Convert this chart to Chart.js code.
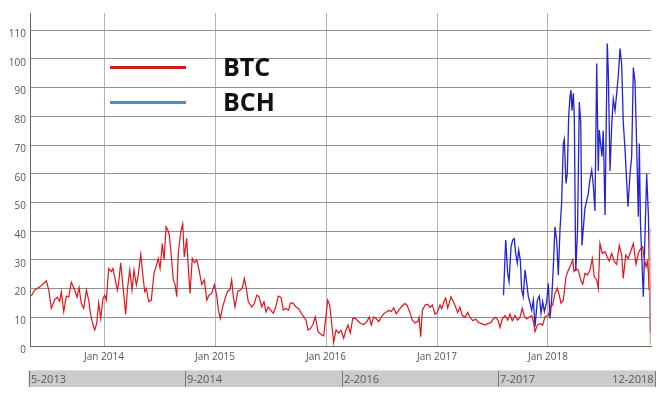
<!DOCTYPE html>
<html>
<head>
<meta charset="utf-8">
<script src="https://cdn.jsdelivr.net/npm/chart.js@4.4.1/dist/chart.umd.min.js"></script>
<style>
  html, body { margin: 0; padding: 0; background: #ffffff; }
  #wrap { width: 666px; height: 398px; position: relative; }
</style>
</head>
<body>
<div id="wrap"><canvas id="c"></canvas></div>
<script>
// ---- data (decimal years, values) ----
const seriesNames = ['BTC', 'BCH'];
const btcDates = [
  2013.345,2013.376,2013.421,2013.450,2013.480,2013.502,2013.525,2013.556,2013.579,2013.601,
  2013.615,2013.637,2013.660,2013.682,2013.705,2013.736,2013.757,2013.775,2013.795,2013.817,
  2013.841,2013.862,2013.877,2013.901,2013.916,2013.934,2013.952,2013.970,2013.991,2014.006,
  2014.021,2014.042,2014.066,2014.081,2014.096,2014.120,2014.132,2014.150,2014.171,2014.195,
  2014.210,2014.232,2014.252,2014.270,2014.291,2014.306,2014.331,2014.351,2014.367,2014.381,
  2014.403,2014.426,2014.450,2014.471,2014.489,2014.505,2014.525,2014.541,2014.559,2014.574,
  2014.588,2014.604,2014.624,2014.640,2014.655,2014.669,2014.691,2014.709,2014.723,2014.745,
  2014.759,2014.775,2014.795,2014.814,2014.835,2014.856,2014.880,2014.904,2014.925,2014.946,
  2014.970,2014.994,2015.015,2015.030,2015.048,2015.069,2015.090,2015.114,2015.135,2015.150,
  2015.165,2015.180,2015.205,2015.228,2015.246,2015.264,2015.279,2015.300,2015.331,2015.354,
  2015.376,2015.396,2015.421,2015.441,2015.459,2015.480,2015.502,2015.525,2015.547,2015.570,
  2015.595,2015.615,2015.633,2015.664,2015.678,2015.700,2015.730,2015.754,2015.777,2015.820,
  2015.838,2015.859,2015.880,2015.904,2015.928,2015.958,2015.979,2016.000,2016.015,2016.033,
  2016.054,2016.069,2016.090,2016.114,2016.135,2016.159,2016.180,2016.198,2016.219,2016.241,
  2016.264,2016.288,2016.309,2016.340,2016.369,2016.390,2016.408,2016.430,2016.450,2016.475,
  2016.498,2016.520,2016.541,2016.565,2016.588,2016.610,2016.633,2016.655,2016.678,2016.709,
  2016.730,2016.754,2016.778,2016.802,2016.826,2016.838,2016.853,2016.868,2016.892,2016.916,
  2016.937,2016.958,2016.982,2017.003,2017.027,2017.042,2017.063,2017.078,2017.096,2017.111,
  2017.126,2017.147,2017.168,2017.186,2017.207,2017.228,2017.252,2017.277,2017.297,2017.322,
  2017.349,2017.372,2017.403,2017.432,2017.457,2017.486,2017.507,2017.529,2017.552,2017.568,
  2017.588,2017.613,2017.637,2017.658,2017.678,2017.703,2017.727,2017.748,2017.768,2017.786,
  2017.808,2017.829,2017.853,2017.869,2017.883,2017.904,2017.928,2017.952,2017.973,2018.003,
  2018.024,2018.042,2018.063,2018.084,2018.102,2018.117,2018.138,2018.162,2018.183,2018.205,
  2018.223,2018.234,2018.252,2018.273,2018.295,2018.313,2018.333,2018.354,2018.378,2018.399,
  2018.417,2018.439,2018.453,2018.468,2018.489,2018.514,2018.534,2018.552,2018.574,2018.595,
  2018.619,2018.642,2018.664,2018.678,2018.700,2018.723,2018.745,2018.769,2018.793,2018.814,
  2018.835,2018.853,2018.865,2018.883,2018.895,2018.905,2018.910,2018.915,2018.921
];
const btcValues = [
  17.4,19.5,20.6,21.6,22.7,19.5,13.1,16.2,17.0,15.5,
  18.9,11.9,17.4,17.0,22.2,19.5,17.0,20.4,14.9,13.1,
  19.5,16.0,11.4,7.3,5.6,7.9,15.0,9.6,16.6,17.7,
  16.0,27.0,25.9,27.0,24.1,19.5,22.0,29.0,20.6,11.1,
  19.5,26.5,19.5,26.5,21.2,24.1,32.0,24.1,18.9,20.0,
  15.5,16.0,25.2,28.0,30.5,27.0,35.7,30.0,41.5,40.5,
  38.6,32.3,23.0,21.4,17.2,32.3,39.7,42.5,31.0,37.5,
  27.4,18.3,30.5,29.0,30.0,26.5,21.4,23.0,16.0,17.7,
  18.3,21.4,17.7,12.5,9.6,13.6,16.5,19.1,19.7,23.0,
  17.2,13.6,19.1,19.5,20.3,23.5,20.7,15.4,13.6,14.8,
  17.7,17.2,13.6,15.4,11.8,13.6,12.5,11.4,13.6,17.4,
  16.9,12.5,13.1,12.5,14.9,15.0,13.6,13.0,11.4,9.0,
  5.6,6.1,7.3,10.1,5.0,3.9,3.5,10.5,16.0,14.3,
  6.7,1.2,5.6,4.5,5.5,2.7,5.6,7.3,4.5,9.6,
  9.6,8.7,7.9,7.5,8.5,10.1,7.3,10.1,9.6,8.5,
  10.1,11.2,11.8,12.4,12.0,13.3,11.2,12.4,13.6,14.8,
  14.2,11.8,9.0,8.0,8.5,10.0,3.2,12.5,14.3,14.6,
  13.5,14.3,11.1,11.7,14.3,13.0,15.5,16.7,13.2,15.0,
  17.2,15.5,13.5,11.7,13.5,10.6,10.0,11.7,10.0,8.8,
  9.4,8.2,7.8,7.3,7.8,8.2,9.4,10.0,8.8,6.5,
  9.4,10.6,9.0,11.1,8.8,10.6,9.0,10.0,13.2,10.5,
  9.4,10.0,10.6,8.5,5.0,7.3,7.8,7.3,10.2,10.6,
  13.7,14.2,18.3,20.1,17.6,14.9,16.0,24.1,26.4,28.2,
  30.0,26.0,27.0,26.4,23.0,21.5,25.3,24.7,26.4,30.5,
  24.1,23.0,20.0,35.7,32.3,32.9,31.0,29.6,32.3,29.6,
  28.4,35.1,31.7,23.5,31.7,30.5,32.9,35.7,28.4,32.3,
  34.0,34.6,31.0,27.6,29.4,25.3,19.6,41.0,0.5
];
const bchDates = [
  2017.599,2017.619,2017.637,2017.649,2017.667,2017.682,2017.696,2017.709,2017.723,2017.736,
  2017.750,2017.763,2017.777,2017.793,2017.808,2017.823,2017.838,2017.853,2017.868,2017.883,
  2017.904,2017.922,2017.937,2017.952,2017.967,2017.988,2018.003,2018.018,2018.033,2018.048,
  2018.063,2018.078,2018.093,2018.108,2018.123,2018.138,2018.147,2018.162,2018.174,2018.186,
  2018.198,2018.207,2018.216,2018.228,2018.237,2018.250,2018.266,2018.282,2018.295,2018.306,
  2018.333,2018.363,2018.378,2018.394,2018.408,2018.423,2018.439,2018.453,2018.462,2018.475,
  2018.486,2018.498,2018.514,2018.534,2018.543,2018.559,2018.574,2018.588,2018.604,2018.619,
  2018.633,2018.649,2018.664,2018.678,2018.694,2018.709,2018.721,2018.739,2018.754,2018.769,
  2018.784,2018.799,2018.814,2018.823,2018.833,2018.859,2018.889,2018.905,2018.923
];
const bchValues = [
  17.7,36.9,25.3,22.4,34.6,36.9,37.4,32.3,28.9,33.4,
  30.0,19.5,17.2,26.5,22.0,17.2,15.0,12.5,16.0,6.7,
  16.0,17.4,11.4,15.4,12.0,15.4,21.8,9.6,16.2,27.6,
  41.5,36.9,24.7,40.5,50.0,70.5,72.0,56.6,60.0,79.8,
  86.8,89.1,82.0,88.0,80.0,26.0,40.0,85.0,78.0,35.0,
  48.0,53.1,58.0,61.3,56.0,47.0,98.4,61.0,75.2,70.0,
  66.0,75.0,45.6,105.4,96.0,61.0,77.0,86.0,82.0,88.0,
  94.0,103.6,98.0,78.0,68.5,57.0,48.5,60.0,66.0,97.0,
  92.0,69.5,45.0,70.5,42.7,17.2,60.0,45.0,4.5
];
const xTickYears = [2014, 2015, 2016, 2017, 2018];
const xTickLabels = ['Jan 2014', 'Jan 2015', 'Jan 2016', 'Jan 2017', 'Jan 2018'];
const yTickValues = [0, 10, 20, 30, 40, 50, 60, 70, 80, 90, 100, 110];
const navLabels = ['5-2013', '9-2014', '2-2016', '7-2017', '12-2018'];
const xRange = [2013.333, 2018.928];
const yRange = [0, 116];

// ---- styles ----
const FONT = "'Open Sans', 'Noto Sans', sans-serif";
const btcColor = '#e3121b';
const bchColor = '#2323d4';
const btcLegendColor = '#cf1a1f';
const bchLegendColor = '#5b8cb8';

const extras = {
  id: 'extras',
  afterDraw(chart) {
    const ctx = chart.ctx;
    const a = chart.chartArea;
    ctx.save();
    // legend inside plot
    const lx0 = a.left + 80, lx1 = a.left + 156, tx = a.left + 193;
    const rows = [
      { y: 67.5, color: btcLegendColor, label: seriesNames[0] },
      { y: 102.5, color: bchLegendColor, label: seriesNames[1] }
    ];
    rows.forEach(r => {
      ctx.strokeStyle = r.color;
      ctx.lineWidth = 3;
      ctx.beginPath();
      ctx.moveTo(lx0, r.y);
      ctx.lineTo(lx1, r.y);
      ctx.stroke();
      ctx.fillStyle = '#111111';
      ctx.font = "bold 25px " + FONT;
      ctx.textAlign = 'left';
      ctx.textBaseline = 'middle';
      ctx.fillText(r.label, tx, r.y + 1.5);
    });
    // navigator bar
    const nx0 = a.left - 1.5, nx1 = a.right + 4, ny0 = 370, ny1 = 387;
    ctx.fillStyle = '#cbcbcb';
    ctx.fillRect(nx0, ny0, nx1 - nx0, ny1 - ny0);
    ctx.fillStyle = '#dedede';
    ctx.fillRect(nx0, ny0, nx1 - nx0, 1);
    const n = navLabels.length - 1;
    ctx.strokeStyle = '#7a7a7a';
    ctx.lineWidth = 1;
    ctx.font = "11px " + FONT;
    ctx.textBaseline = 'middle';
    ctx.fillStyle = '#5a5a5a';
    for (let i = 0; i <= n; i++) {
      const px = Math.round(nx0 + (nx1 - nx0) * i / n) + 0.5;
      ctx.beginPath();
      ctx.moveTo(px, ny0 + 1);
      ctx.lineTo(px, ny1);
      ctx.stroke();
      if (i < n) {
        ctx.textAlign = 'left';
        ctx.fillText(navLabels[i], px + 1.5, (ny0 + ny1) / 2 + 1);
      } else {
        ctx.textAlign = 'right';
        ctx.fillText(navLabels[i], px - 2, (ny0 + ny1) / 2 + 1);
      }
    }
    ctx.restore();
  }
};

new Chart(document.getElementById('c'), {
  type: 'line',
  data: {
    datasets: [
      {
        label: seriesNames[0],
        data: btcDates.map((d, i) => ({ x: d, y: btcValues[i] })),
        borderColor: btcColor,
        borderWidth: 1.2,
        pointRadius: 0,
        tension: 0,
        segment: {
          borderColor: c => (c.p1DataIndex === btcValues.length - 1 ? '#f0a070' : undefined)
        }
      },
      {
        label: seriesNames[1],
        data: bchDates.map((d, i) => ({ x: d, y: bchValues[i] })),
        borderColor: bchColor,
        borderWidth: 1.3,
        pointRadius: 0,
        tension: 0
      }
    ]
  },
  options: {
    responsive: true,
    maintainAspectRatio: false,
    animation: false,
    layout: { padding: { left: 0, right: 15, top: 13, bottom: 0 } },
    plugins: { legend: { display: false }, tooltip: { enabled: false } },
    scales: {
      x: {
        type: 'linear',
        min: xRange[0],
        max: xRange[1],
        afterBuildTicks: s => { s.ticks = xTickYears.map(v => ({ value: v })); },
        afterFit: s => { s.height = 52; },
        ticks: {
          padding: 5,
          maxRotation: 0,
          autoSkip: false,
          color: '#555555',
          font: { family: FONT, size: 10 },
          callback: v => xTickLabels[xTickYears.indexOf(v)]
        },
        grid: { color: '#b3b3b3', lineWidth: 1, drawTicks: false },
        border: { color: '#666666', width: 1 }
      },
      y: {
        type: 'linear',
        min: yRange[0],
        max: yRange[1],
        afterBuildTicks: s => { s.ticks = yTickValues.map(v => ({ value: v })); },
        afterFit: s => { s.width = 30; },
        ticks: {
          padding: 4,
          labelOffset: 4,
          color: '#555555',
          font: { family: FONT, size: 10 },
          callback: v => String(v)
        },
        grid: { color: '#8f8f8f', lineWidth: 1, drawTicks: false },
        border: { color: '#666666', width: 1 }
      }
    }
  },
  plugins: [extras]
});
</script>
</body>
</html>
